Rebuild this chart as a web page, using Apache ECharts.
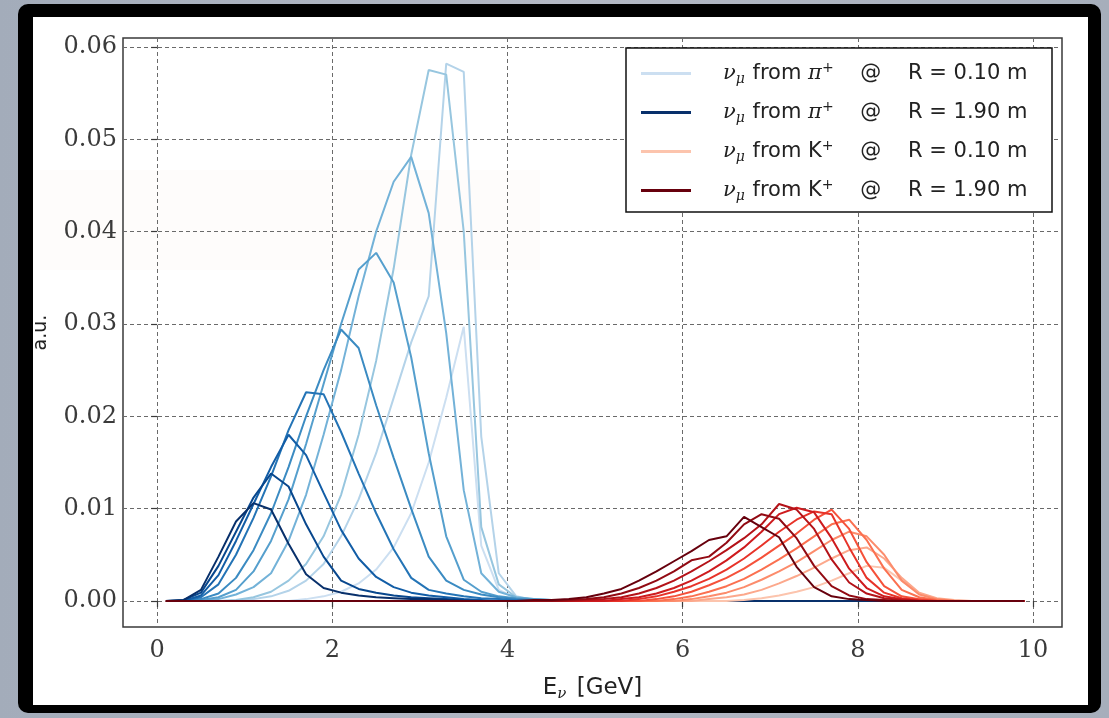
<!DOCTYPE html>
<html>
<head>
<meta charset="utf-8">
<title>nu_mu flux vs R</title>
<script src="https://cdn.jsdelivr.net/npm/echarts@6/dist/echarts.min.js"></script>
<style>
  html, body { margin: 0; padding: 0; }
  body { width: 1109px; height: 718px; position: relative; overflow: hidden;
         background: linear-gradient(90deg, #a3acba 0%, #b3b8c4 50%, #a6aebb 100%); }
  #frame { position: absolute; left: 18px; top: 4px; width: 1083px; height: 709px;
           background: #000; border-radius: 10px; }
  #paper { position: absolute; left: 33px; top: 17px; width: 1055px; height: 688px; background: #fff; }
  #haze { position: absolute; left: 40px; top: 170px; width: 500px; height: 100px;
          background: rgba(248, 226, 216, 0.10); }
  #chart { position: absolute; left: 0; top: 0; width: 1109px; height: 718px; }
</style>
</head>
<body>
<div id="frame"></div>
<div id="paper"></div>
<div id="haze"></div>
<div id="chart"></div>
<script>
// bin centres [GeV]
const energy = [0.1, 0.3, 0.5, 0.7, 0.9, 1.1, 1.3, 1.5, 1.7, 1.9,
  2.1, 2.3, 2.5, 2.7, 2.9, 3.1, 3.3, 3.5, 3.7, 3.9,
  4.1, 4.3, 4.5, 4.7, 4.9, 5.1, 5.3, 5.5, 5.7, 5.9,
  6.1, 6.3, 6.5, 6.7, 6.9, 7.1, 7.3, 7.5, 7.7, 7.9,
  8.1, 8.3, 8.5, 8.7, 8.9, 9.1, 9.3, 9.5, 9.7, 9.9];
const xTicks = [0, 2, 4, 6, 8, 10];
const yTicks = [0, 0.01, 0.02, 0.03, 0.04, 0.05, 0.06];
const radii = ['0.10', '0.30', '0.50', '0.70', '0.90', '1.10', '1.30', '1.50', '1.70', '1.90'];

// nu_mu from pi+, R = 0.10 ... 1.90 m
const pi010 = [0,0,0,0,0,0,0,0,0.0002,0.0005, 0.0010,0.0019,0.0034,0.0058,0.0095,0.0150,0.0220,0.0297,0.0060,0.0012, 0.0003,0,0,0,0,0,0,0,0,0, 0,0,0,0,0,0,0,0,0,0, 0,0,0,0,0,0,0,0,0,0];
const pi030 = [0,0,0,0,0,0.0002,0.0005,0.0011,0.0022,0.0040, 0.0070,0.0110,0.0160,0.0220,0.0280,0.0330,0.0582,0.0573,0.0178,0.0030, 0.0005,0.0001,0,0,0,0,0,0,0,0, 0,0,0,0,0,0,0,0,0,0, 0,0,0,0,0,0,0,0,0,0];
const pi050 = [0,0,0,0,0.0001,0.0004,0.0010,0.0022,0.0040,0.0070, 0.0115,0.0180,0.0260,0.0360,0.0483,0.0575,0.0570,0.0400,0.0080,0.0018, 0.0004,0.0001,0,0,0,0,0,0,0,0, 0,0,0,0,0,0,0,0,0,0, 0,0,0,0,0,0,0,0,0,0];
const pi070 = [0,0,0,0.0002,0.0007,0.0015,0.0030,0.0065,0.0115,0.0180, 0.0250,0.0330,0.0400,0.0454,0.0481,0.0420,0.0290,0.0120,0.0030,0.0010, 0.0004,0.0002,0.0001,0,0,0,0,0,0,0, 0,0,0,0,0,0,0,0,0,0, 0,0,0,0,0,0,0,0,0,0];
const pi090 = [0,0,0.0001,0.0004,0.0012,0.0032,0.0065,0.0110,0.0170,0.0235, 0.0300,0.0359,0.0377,0.0345,0.0264,0.0160,0.0070,0.0023,0.0010,0.0005, 0.0003,0.0002,0.0001,0,0,0,0,0,0,0, 0,0,0,0,0,0,0,0,0,0, 0,0,0,0,0,0,0,0,0,0];
const pi110 = [0,0,0.0002,0.0008,0.0025,0.0055,0.0095,0.0145,0.0200,0.0250, 0.0294,0.0274,0.0212,0.0155,0.0100,0.0048,0.0022,0.0012,0.0007,0.0004, 0.0002,0.0001,0,0,0,0,0,0,0,0, 0,0,0,0,0,0,0,0,0,0, 0,0,0,0,0,0,0,0,0,0];
const pi130 = [0,0,0.0004,0.0018,0.0050,0.0090,0.0135,0.0185,0.0226,0.0224, 0.0183,0.0138,0.0095,0.0056,0.0025,0.0012,0.0008,0.0005,0.0003,0.0002, 0.0001,0,0,0,0,0,0,0,0,0, 0,0,0,0,0,0,0,0,0,0, 0,0,0,0,0,0,0,0,0,0];
const pi150 = [0,0,0.0006,0.0028,0.0065,0.0105,0.0145,0.0180,0.0158,0.0117, 0.0077,0.0046,0.0026,0.0015,0.0009,0.0006,0.0004,0.0002,0.0001,0, 0,0,0,0,0,0,0,0,0,0, 0,0,0,0,0,0,0,0,0,0, 0,0,0,0,0,0,0,0,0,0];
const pi170 = [0,0.0001,0.0009,0.0038,0.0075,0.0112,0.0138,0.0124,0.0083,0.0048, 0.0022,0.0013,0.0009,0.0006,0.0004,0.0003,0.0002,0.0001,0,0, 0,0,0,0,0,0,0,0,0,0, 0,0,0,0,0,0,0,0,0,0, 0,0,0,0,0,0,0,0,0,0];
const pi190 = [0,0.0001,0.0012,0.0048,0.0086,0.0106,0.0099,0.0062,0.0029,0.0014, 0.0009,0.0006,0.0004,0.0003,0.0002,0.0002,0.0001,0,0,0, 0,0,0,0,0,0,0,0,0,0, 0,0,0,0,0,0,0,0,0,0, 0,0,0,0,0,0,0,0,0,0];

// nu_mu from K+, R = 0.10 ... 1.90 m
const k010 = [0,0,0,0,0,0,0,0,0,0, 0,0,0,0,0,0,0,0,0,0, 0,0,0,0,0,0,0,0,0,0, 0,0,0,0.0001,0.0003,0.0006,0.0010,0.0015,0.0022,0.0030, 0.0038,0.0036,0.0022,0.0008,0.0002,0,0,0,0,0];
const k030 = [0,0,0,0,0,0,0,0,0,0, 0,0,0,0,0,0,0,0,0,0, 0,0,0,0,0,0,0,0,0,0, 0,0.0002,0.0004,0.0007,0.0012,0.0019,0.0027,0.0036,0.0046,0.0055, 0.0058,0.0046,0.0025,0.0009,0.0003,0.0001,0,0,0,0];
const k050 = [0,0,0,0,0,0,0,0,0,0, 0,0,0,0,0,0,0,0,0,0, 0,0,0,0,0,0,0,0,0,0, 0.0002,0.0005,0.0009,0.0015,0.0023,0.0032,0.0042,0.0054,0.0066,0.0075, 0.0070,0.0050,0.0022,0.0007,0.0002,0,0,0,0,0];
const k070 = [0,0,0,0,0,0,0,0,0,0, 0,0,0,0,0,0,0,0,0,0, 0,0,0,0,0,0,0,0,0,0.0002, 0.0005,0.0010,0.0016,0.0024,0.0034,0.0045,0.0057,0.0070,0.0083,0.0088, 0.0066,0.0035,0.0012,0.0004,0.0001,0,0,0,0,0];
const k090 = [0,0,0,0,0,0,0,0,0,0, 0,0,0,0,0,0,0,0,0,0, 0,0,0,0,0,0,0,0,0.0002,0.0005, 0.0010,0.0017,0.0025,0.0035,0.0047,0.0060,0.0073,0.0088,0.0099,0.0078, 0.0042,0.0016,0.0005,0.0002,0,0,0,0,0,0];
const k110 = [0,0,0,0,0,0,0,0,0,0, 0,0,0,0,0,0,0,0,0,0, 0,0,0,0,0,0,0,0.0002,0.0005,0.0010, 0.0016,0.0024,0.0034,0.0046,0.0060,0.0075,0.0088,0.0097,0.0094,0.0058, 0.0025,0.0009,0.0003,0.0001,0,0,0,0,0,0];
const k130 = [0,0,0,0,0,0,0,0,0,0, 0,0,0,0,0,0,0,0,0,0, 0,0,0,0,0,0,0.0002,0.0004,0.0008,0.0014, 0.0022,0.0032,0.0044,0.0058,0.0075,0.0094,0.0101,0.0096,0.0068,0.0035, 0.0014,0.0005,0.0002,0,0,0,0,0,0,0];
const k150 = [0,0,0,0,0,0,0,0,0,0, 0,0,0,0,0,0,0,0,0,0, 0,0,0,0,0.0001,0.0002,0.0004,0.0008,0.0014,0.0022, 0.0032,0.0043,0.0055,0.0068,0.0083,0.0105,0.0099,0.0078,0.0045,0.0020, 0.0008,0.0003,0.0001,0,0,0,0,0,0,0];
const k170 = [0,0,0,0,0,0,0,0,0,0, 0,0,0,0,0,0,0,0,0,0, 0,0,0,0.0001,0.0002,0.0004,0.0008,0.0014,0.0022,0.0032, 0.0044,0.0048,0.0063,0.0083,0.0094,0.0089,0.0068,0.0038,0.0016,0.0006, 0.0002,0.0001,0,0,0,0,0,0,0,0];
const k190 = [0,0,0,0,0,0,0,0,0,0, 0,0,0,0,0,0,0,0,0,0, 0,0.0001,0.0001,0.0002,0.0004,0.0008,0.0013,0.0022,0.0032,0.0043, 0.0054,0.0066,0.0070,0.0091,0.0080,0.0069,0.0037,0.0015,0.0005,0.0002, 0.0001,0,0,0,0,0,0,0,0,0];

const pionCurves = [pi010, pi030, pi050, pi070, pi090, pi110, pi130, pi150, pi170, pi190];
const kaonCurves = [k010, k030, k050, k070, k090, k110, k130, k150, k170, k190];

// matplotlib Blues / Reds colormaps
const bluesStops = [[247,251,255],[222,235,247],[198,219,239],[158,202,225],[107,174,214],[66,146,198],[33,113,181],[8,81,156],[8,48,107]];
const redsStops = [[255,245,240],[254,224,210],[252,187,161],[252,146,114],[251,106,74],[239,59,44],[203,24,29],[165,15,21],[103,0,13]];

function cmap(stops, t) {
  const p = t * (stops.length - 1);
  const i = Math.min(Math.floor(p), stops.length - 2);
  const f = p - i;
  const c = stops[i].map((v, k) => Math.round(v + (stops[i + 1][k] - v) * f));
  return 'rgb(' + c.join(',') + ')';
}

const series = [];
function addCurves(curves, stops, tag) {
  curves.forEach((vals, n) => {
    const col = cmap(stops, 0.22 + 0.78 * n / 9);
    series.push({
      name: tag + radii[n],
      type: 'line',
      data: energy.map((e, i) => [e, vals[i]]),
      symbol: 'none',
      lineStyle: { width: 2, color: col },
      itemStyle: { color: col },
      emphasis: { disabled: true }
    });
  });
}
addCurves(pionCurves, bluesStops, 'pi');
addCurves(kaonCurves, redsStops, 'K');

const legendText = {
  'pi0.10': '{g|ν}{s|μ} from {g|π}{p|+}    @    R = 0.10 m',
  'pi1.90': '{g|ν}{s|μ} from {g|π}{p|+}    @    R = 1.90 m',
  'K0.10': '{g|ν}{s|μ} from K{p|+}    @    R = 0.10 m',
  'K1.90': '{g|ν}{s|μ} from K{p|+}    @    R = 1.90 m'
};

const tickFont = { fontFamily: 'DejaVu Serif', fontSize: 24, color: '#3a3a3a' };

const chart = echarts.init(document.getElementById('chart'), null, { renderer: 'canvas' });
chart.setOption({
  animation: false,
  backgroundColor: 'transparent',
  grid: { left: 123, right: 47, top: 38, bottom: 91, show: true, borderColor: '#3a3a3a', borderWidth: 1.5 },
  xAxis: {
    type: 'value',
    min: -0.39, max: 10.33,
    name: '{e|E}{s|ν} [GeV]',
    nameLocation: 'middle',
    nameGap: 48,
    nameTextStyle: {
      fontFamily: 'DejaVu Sans', fontSize: 23, color: '#222',
      rich: {
        e: { fontFamily: 'DejaVu Sans', fontSize: 23, color: '#222' },
        s: { fontFamily: 'DejaVu Serif', fontStyle: 'italic', fontSize: 15, color: '#222', padding: [12, 3, 0, 0] }
      }
    },
    axisLine: { show: false },
    axisTick: { show: true, length: 6, customValues: xTicks, lineStyle: { color: '#3a3a3a', width: 1.2 } },
    axisLabel: { customValues: xTicks, margin: 12, formatter: v => String(v), ...tickFont },
    splitLine: { show: true, lineStyle: { color: '#6a6a6a', width: 1, type: [4, 3] } }
  },
  yAxis: {
    type: 'value',
    min: -0.00282, max: 0.06097,
    name: 'a.u.',
    nameLocation: 'middle',
    nameGap: 72,
    nameTextStyle: { fontFamily: 'DejaVu Sans', fontSize: 19, color: '#222' },
    axisLine: { show: false },
    axisTick: { show: true, length: 6, customValues: yTicks, lineStyle: { color: '#3a3a3a', width: 1.2 } },
    axisLabel: { customValues: yTicks, margin: 6, formatter: v => v.toFixed(2), ...tickFont },
    splitLine: { show: true, lineStyle: { color: '#6a6a6a', width: 1, type: [4, 3] } }
  },
  legend: {
    data: ['pi0.10', 'pi1.90', 'K0.10', 'K1.90'],
    orient: 'vertical',
    left: 636, top: 56,
    z: 20,
    icon: 'rect',
    itemWidth: 50, itemHeight: 3, itemGap: 14,
    selectedMode: false,
    formatter: name => legendText[name],
    textStyle: {
      fontFamily: 'DejaVu Sans', fontSize: 21, color: '#222',
      padding: [0, 0, 0, 27],
      rich: {
        g: { fontFamily: 'DejaVu Serif', fontStyle: 'italic', fontSize: 21, color: '#222' },
        s: { fontFamily: 'DejaVu Serif', fontStyle: 'italic', fontSize: 14, color: '#222', padding: [11, 1, 0, 0] },
        p: { fontFamily: 'DejaVu Sans', fontSize: 14, color: '#222', padding: [0, 0, 11, 0] }
      }
    }
  },
  graphic: [{
    type: 'rect', z: 10,
    shape: { x: 626, y: 48, width: 426, height: 164 },
    style: { fill: '#fff', stroke: '#111', lineWidth: 1.5 }
  }],
  series: series
});
</script>
</body>
</html>
